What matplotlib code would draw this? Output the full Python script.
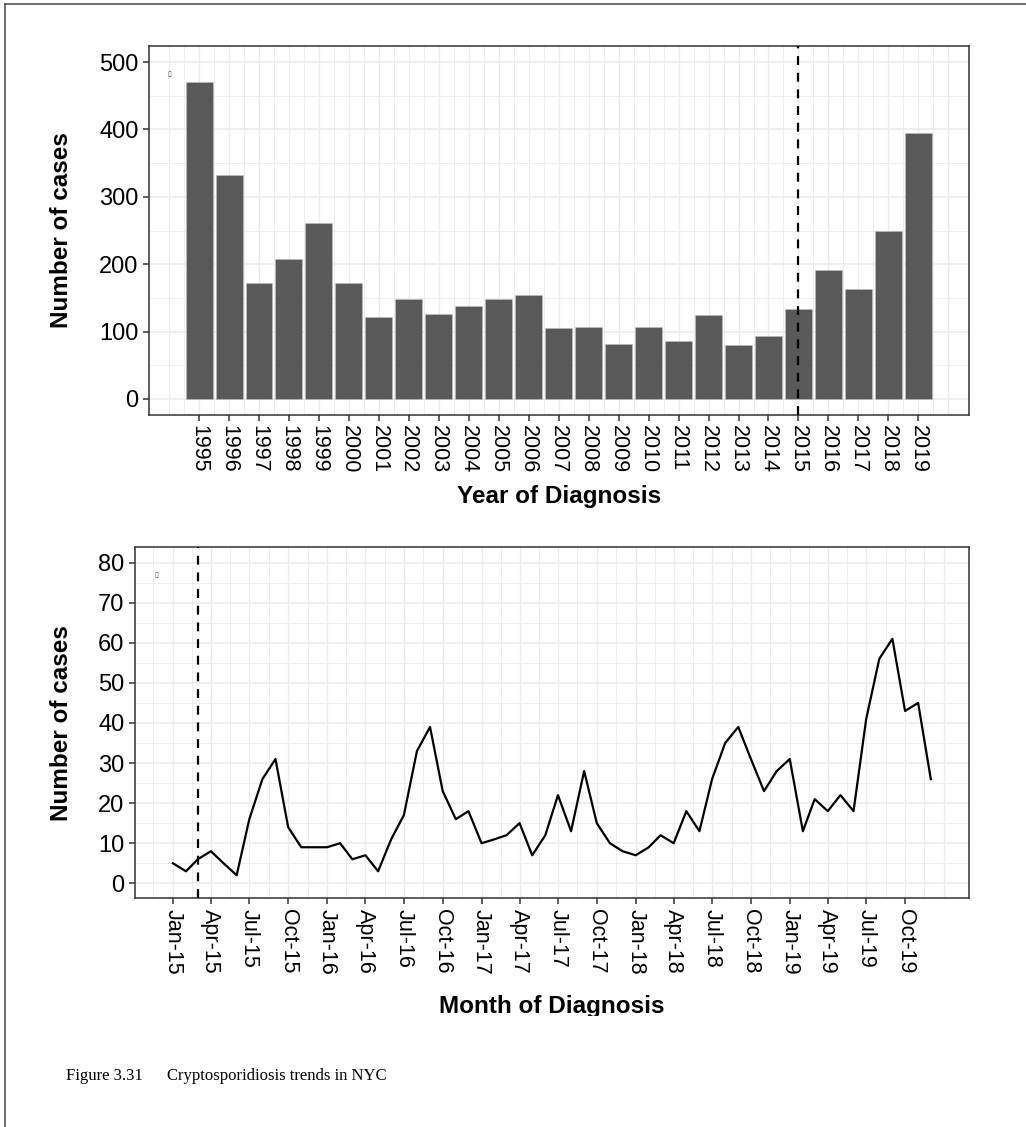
import numpy as np
import pandas as pd
import matplotlib
matplotlib.use("Agg")
import matplotlib.pyplot as plt
from matplotlib.lines import Line2D
from matplotlib.transforms import Bbox

plt.rcParams["font.family"] = ["Liberation Sans", "DejaVu Sans"]

# annual counts
years = np.arange(1995, 2020)
annual_cases = [470, 333, 172, 207, 261, 172, 122, 148, 126, 138, 148, 155, 105,
                107, 81, 107, 86, 125, 80, 93, 133, 192, 163, 250, 395]

# monthly counts, Jan 2015 - Dec 2019
months = pd.date_range("2015-01-01", periods=60, freq="MS")
monthly_cases = [5, 3, 6, 8, 5, 2, 16, 26, 31, 14, 9, 9,
                 9, 10, 6, 7, 3, 11, 17, 33, 39, 23, 16, 18,
                 10, 11, 12, 15, 7, 12, 22, 13, 28, 15, 10, 8,
                 7, 9, 12, 10, 18, 13, 26, 35, 39, 31, 23, 28,
                 31, 13, 21, 18, 22, 18, 41, 56, 61, 43, 45, 26]

marker_year = 2015
marker_month = pd.Timestamp("2015-03-01")

GRID = "#EBEBEB"
FRAME = "#333333"
BAR = "#595959"
W, H = 1026, 1127

fig = plt.figure(figsize=(W / 100, H / 100), dpi=100)

# page frame (left and top rule)
fig.add_artist(Line2D([4.7 / W, 4.7 / W], [0, 1 - 4 / H], color="#555555", lw=1.2))
fig.add_artist(Line2D([4.7 / W, 1], [1 - 4 / H, 1 - 4 / H], color="#555555", lw=1.2))


def style_axes(ax, left_px):
    for s in ax.spines.values():
        s.set_color(FRAME)
        s.set_linewidth(1.1)
    ax.tick_params(axis="both", length=4.5, width=1.1, color=FRAME, colors="black")
    ax.tick_params(axis="y", labelsize=17, pad=3)
    ax.tick_params(axis="x", labelsize=15.5, pad=3, labelrotation=-90)
    ax.set_axisbelow(True)
    ax.set_ylabel("Number of cases", fontsize=17.5, fontweight="bold")
    ax.yaxis.label.set_va("center")
    width_px = ax.get_position().width * W
    ax.yaxis.set_label_coords((62 - left_px) / width_px, 0.5)


# ---- annual bars ----
ax1 = fig.add_axes([149 / W, 1 - 414.7 / H, 819.7 / W, 369 / H])
style_axes(ax1, 149)
for y in np.arange(50, 500, 100):
    ax1.axhline(y, color=GRID, lw=0.6, zorder=0)
for y in np.arange(0, 501, 100):
    ax1.axhline(y, color=GRID, lw=1.2, zorder=0)
for x in np.arange(1994, 2020.01, 0.5):
    ax1.axvline(x, color=GRID, lw=0.9 if x % 1 == 0 else 0.6, zorder=0)

ax1.bar(years, annual_cases, width=0.9, color=BAR, edgecolor="#BDBDBD", linewidth=0.4, zorder=2)
ax1.axvline(marker_year, color="black", lw=1.6, ls=(0, (4, 3.5)), zorder=3)
ax1.text(1994, 482, "\u25AF", fontsize=5, color="#444444", ha="center", va="center",
         family=["DejaVu Sans"])

ax1.set_xlim(1993.33, 2020.68)
ax1.set_ylim(-23.3, 524.2)
ax1.set_xticks(years)
ax1.set_xticklabels([str(y) for y in years])
ax1.set_yticks(np.arange(0, 501, 100))
ax1.set_xlabel("Year of Diagnosis", fontsize=17.5, fontweight="bold", labelpad=8)

# ---- monthly line ----
ax2 = fig.add_axes([135 / W, 1 - 898.3 / H, 833.7 / W, 351 / H])
style_axes(ax2, 135)
start, end = months[0], months[-1]
span = (end - start) * 0.05
for y in np.arange(5, 80, 10):
    ax2.axhline(y, color=GRID, lw=0.6, zorder=0)
for y in np.arange(0, 81, 10):
    ax2.axhline(y, color=GRID, lw=1.2, zorder=0)
quarters = pd.date_range("2014-10-01", "2020-01-01", freq="3MS")
for q in quarters:
    ax2.axvline(q, color=GRID, lw=0.9, zorder=0)
for a, b in zip(quarters[:-1], quarters[1:]):
    ax2.axvline(a + (b - a) / 2, color=GRID, lw=0.6, zorder=0)

ax2.plot(months, monthly_cases, color="black", lw=1.6, zorder=2)
ax2.axvline(marker_month, color="black", lw=1.6, ls=(0, (4, 3.5)), zorder=3)
ax2.text(pd.Timestamp("2014-11-22"), 77, "\u25AF", fontsize=5, color="#444444",
         ha="center", va="center", family=["DejaVu Sans"])

ax2.set_xlim(start - span, end + span)
ax2.set_ylim(-3.74, 83.83)
tick_dates = pd.date_range("2015-01-01", "2019-10-01", freq="3MS")
ax2.set_xticks(tick_dates)
ax2.set_xticklabels([d.strftime("%b-%y") for d in tick_dates])
ax2.set_yticks(np.arange(0, 81, 10))
ax2.set_xlabel("Month of Diagnosis", fontsize=17.5, fontweight="bold", labelpad=15)
# the lower edge of this title is cut off on the page
ax2.xaxis.label.set_clip_on(True)
ax2.xaxis.label.set_clip_box(Bbox([[0, H - 1016], [W, H]]))

base = 1 - 1080 / H
fig.text(66 / W, base, "Figure 3.31", fontsize=12, family=["Liberation Serif"],
         ha="left", va="baseline")
fig.text(167 / W, base, "Cryptosporidiosis trends in NYC", fontsize=12,
         family=["Liberation Serif"], ha="left", va="baseline")

fig.savefig("out.png", dpi=100)
